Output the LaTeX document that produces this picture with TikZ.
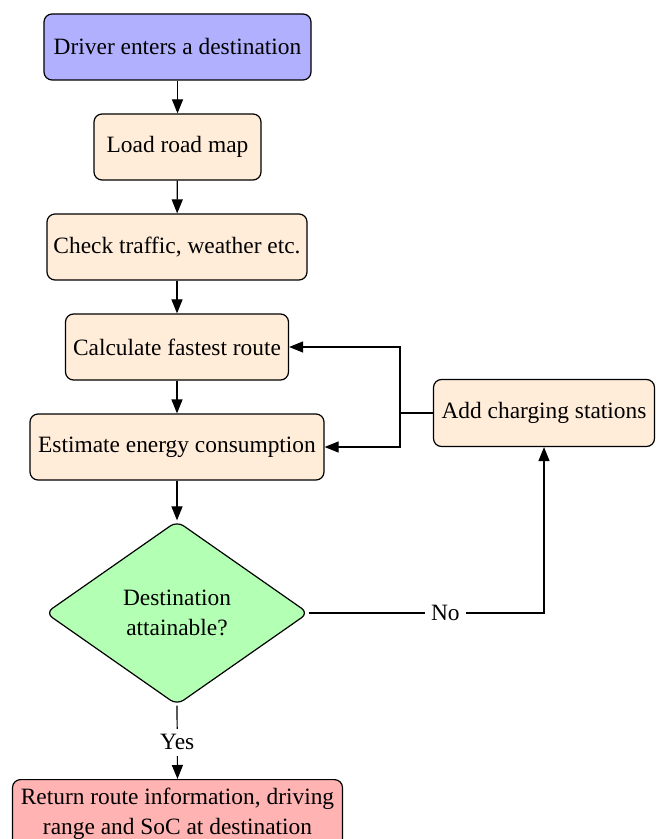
\documentclass[tikz,border=0pt]{standalone}
\usepackage{fontspec}
\setmainfont{Liberation Serif}
\usetikzlibrary{shapes.geometric,arrows.meta}
\definecolor{cblue}{RGB}{176,176,255}
\definecolor{cpeach}{RGB}{255,236,217}
\definecolor{cgreen}{RGB}{179,255,179}
\definecolor{cred}{RGB}{255,179,179}
\tikzset{
  base/.style={draw=black, line width=0.6pt, rounded corners=4pt, align=center,
    font=\fontsize{11.7}{15}\selectfont, inner xsep=2pt, minimum height=33pt},
  proc/.style={base, fill=cpeach},
  startbox/.style={base, fill=cblue},
  endbox/.style={base, fill=cred},
  decision/.style={draw=black, line width=0.6pt, diamond, rounded corners=4pt, fill=cgreen,
    align=center, font=\fontsize{11.7}{15}\selectfont, minimum width=131.5pt, minimum height=92pt, inner sep=0pt},
  arr/.style={line width=0.6pt, -{Triangle[length=7pt,width=5.5pt]}},
  ln/.style={line width=0.6pt},
  lbl/.style={fill=white, font=\fontsize{11.7}{15}\selectfont, inner sep=3pt}
}
\begin{document}
\begin{tikzpicture}[x=0.5pt,y=-0.5pt]
\useasboundingbox (0,0) rectangle (656,839);
\node[startbox, minimum width=133.5pt] (b1) at (177.5,47) {Driver enters a destination};
\node[proc, minimum width=83.5pt] (b2) at (177.5,147) {Load road map};
\node[proc, minimum width=130pt] (b3) at (177,247) {Check traffic, weather etc.};
\node[proc, minimum width=111.5pt] (b4) at (177,347) {Calculate fastest route};
\node[proc, minimum width=147pt] (b5) at (177,447) {Estimate energy consumption};
\node[proc, minimum width=110.5pt, minimum height=33.5pt] (add) at (544,413) {Add charging stations};
\node[decision] (dia) at (177,613) {Destination\\attainable?};
\node[endbox, minimum width=165pt, anchor=north, inner ysep=4pt] (b6) at (177.5,779) {Return route information, driving\\range and SoC at destination};
\coordinate (j) at (400,413);

\draw[arr] (b1) -- (b2);
\draw[arr] (b2) -- (b3);
\draw[arr] (b3) -- (b4);
\draw[arr] (b4) -- (b5);
\draw[arr] (b5) -- (dia);
\draw[ln] (add.west) -- (j);
\draw[arr] (j) |- (b4.east);
\draw[arr] (j) |- (b5.east);
\draw[arr] (dia.east) -| node[lbl, pos=0.29] {No} (add.south);
\draw[arr] (dia.south) -- node[lbl] {Yes} (b6.north);
\end{tikzpicture}
\end{document}
